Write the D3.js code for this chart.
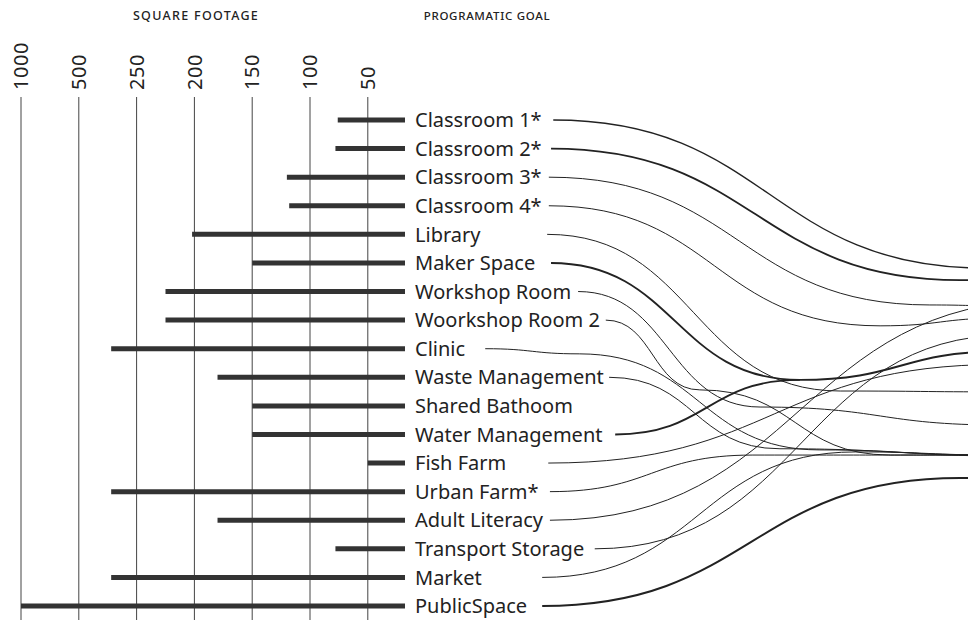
<!DOCTYPE html>
<html>
<head>
<meta charset="utf-8">
<script src="https://cdn.jsdelivr.net/npm/d3@7"></script>
<style>
  html, body { margin: 0; padding: 0; background: #fff; }
  svg { display: block; }
  text { font-family: "Noto Sans", sans-serif; fill: #222; }
</style>
</head>
<body>
<svg id="chart" width="968" height="620"></svg>
<script>
const ROOMS = [
  "Classroom 1*", "Classroom 2*", "Classroom 3*", "Classroom 4*", "Library",
  "Maker Space", "Workshop Room", "Woorkshop Room 2", "Clinic", "Waste Management",
  "Shared Bathoom", "Water Management", "Fish Farm", "Urban Farm*", "Adult Literacy",
  "Transport Storage", "Market", "PublicSpace"
];
const SQUARE_FEET = [76, 78, 120, 118, 202, 150, 225, 225, 360, 180, 150, 150, 50, 360, 180, 78, 360, 1000];
const FOOTAGE_TICKS = [1000, 500, 250, 200, 150, 100, 50];

// connector start, in goal-span units (0 = label edge, 100 = right edge)
const LINK_START = [25, 24.6, 24.2, 24.2, 23.9, 24.6, 29.5, 34.5, 12.7, 35.1, null, 36.2, 24.1, 24.4, 24.4, 32.5, 23, 23];
// waypoints after the start: [goal-span, row]
const LINK_ROUTE = [
  [[103.1, 5.18]],
  [[98.6, 5.6], [106, 5.6]],
  [[93.1, 6.47], [106, 6.5]],
  [[84.1, 7.2], [106, 6.93]],
  [[76.9, 9.48], [106, 9.51]],
  [[69.6, 9.09], [106, 8.1]],
  [[62.4, 10.04], [106, 10.67]],
  [[51.5, 9.44], [86, 11.72], [106, 11.72]],
  [[29.7, 8.18], [73.2, 11.54], [106, 11.75]],
  [[66, 11.5], [106, 11.72]],
  null,
  [[69.6, 9.09]],
  [[106, 8.55]],
  [[61.1, 11.72], [106, 11.72]],
  [[114.8, 6.3]],
  [[107.6, 7.52]],
  [[79.7, 11.61], [106, 11.72]],
  [[98.6, 12.52], [106, 12.52]]
];
const LINK_WEIGHT = [1.4, 1.8, 1, 1, 1, 1.9, 1, 1, 1, 1, 0, 1.9, 1, 1, 1, 1, 1, 2];

const width = 968;
const height = 620;
const svg = d3.select("#chart");

const rowY = d3.scaleLinear()
  .domain([0, ROOMS.length - 1])
  .range([120, 606]);

const footX = d3.scaleLinear()
  .domain(FOOTAGE_TICKS.concat([0]))
  .range(FOOTAGE_TICKS.map((d, i) => 21 + i * 57.8).concat([405]));

const flowX = d3.scaleLinear()
  .domain([0, 100])
  .range([415, width]);

// headers
svg.append("text")
  .attr("x", 196).attr("y", 20)
  .attr("text-anchor", "middle")
  .style("font-size", "12.5px")
  .style("font-weight", 500)
  .style("letter-spacing", "1.3px")
  .text("SQUARE FOOTAGE");

svg.append("text")
  .attr("x", 487).attr("y", 20)
  .attr("text-anchor", "middle")
  .style("font-size", "11.5px")
  .style("font-weight", 500)
  .style("letter-spacing", "0.7px")
  .text("PROGRAMATIC GOAL");

// footage axis: rotated labels + full height rules
const axisG = svg.append("g");
axisG.selectAll("line")
  .data(FOOTAGE_TICKS)
  .join("line")
  .attr("x1", (d) => footX(d)).attr("x2", (d) => footX(d))
  .attr("y1", 97).attr("y2", height)
  .attr("stroke", "#444")
  .attr("stroke-width", 1);

axisG.selectAll("text")
  .data(FOOTAGE_TICKS)
  .join("text")
  .attr("transform", (d) => "translate(" + footX(d) + ",90) rotate(-90)")
  .attr("dy", "0.36em")
  .style("font-size", "20px")
  .style("letter-spacing", "0.6px")
  .text((d) => d);

// bars
svg.append("g").selectAll("line")
  .data(SQUARE_FEET)
  .join("line")
  .attr("x1", (d) => footX(d))
  .attr("x2", footX(0))
  .attr("y1", (d, i) => rowY(i))
  .attr("y2", (d, i) => rowY(i))
  .attr("stroke", "#333")
  .attr("stroke-width", 5);

// room labels
svg.append("g").selectAll("text")
  .data(ROOMS)
  .join("text")
  .attr("x", flowX(0))
  .attr("y", (d, i) => rowY(i))
  .attr("dy", "0.36em")
  .style("font-size", "20px")
  .text((d) => d);

// connectors to the goal column
const linkLine = d3.line()
  .x((d) => flowX(d[0]))
  .y((d) => rowY(d[1]))
  .curve(d3.curveBumpX);

const links = ROOMS.map((name, i) => ({
  name: name,
  weight: LINK_WEIGHT[i],
  points: LINK_ROUTE[i] === null ? null : [[LINK_START[i], i]].concat(LINK_ROUTE[i])
})).filter((d) => d.points !== null);

svg.append("g").selectAll("path")
  .data(links)
  .join("path")
  .attr("d", (d) => linkLine(d.points))
  .attr("fill", "none")
  .attr("stroke", "#222")
  .attr("stroke-width", (d) => d.weight);
</script>
</body>
</html>
